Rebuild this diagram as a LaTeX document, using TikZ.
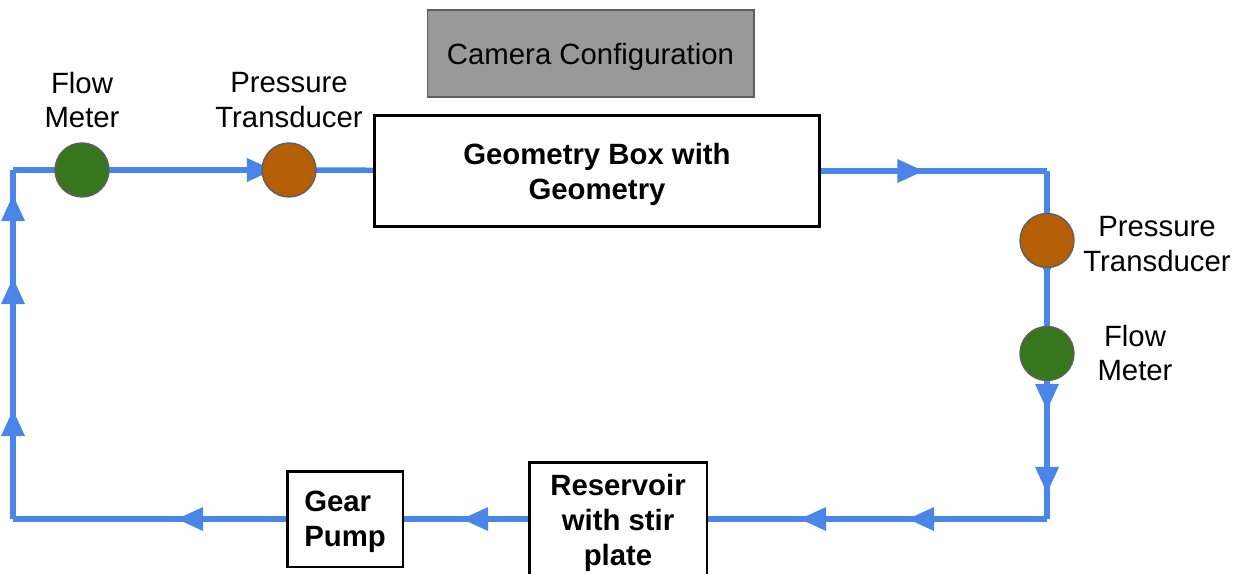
\documentclass[tikz,border=0pt]{standalone}
\usepackage{fontspec}
\setmainfont{Liberation Sans}
\usetikzlibrary{arrows.meta,backgrounds,decorations.markings}

\definecolor{pipeblue}{HTML}{4A86E8}
\definecolor{metergreen}{HTML}{38761D}
\definecolor{transorange}{HTML}{B45F06}
\definecolor{rimgray}{HTML}{5F5F5F}
\definecolor{camgray}{HTML}{999999}

\tikzset{
  pipe/.style={pipeblue, line width=0.11cm},
  flowmark/.style={postaction={decorate,decoration={markings,
    mark=at position #1 with {\arrow{Triangle[length=0.52cm,width=0.48cm,line width=0pt]}}}}},
  sensor/.style={circle, draw=rimgray, line width=0.8pt, minimum size=1.08cm, inner sep=0pt},
  tag/.style={align=center, inner sep=0pt, font=\fontsize{16.7}{19.9}\selectfont},
  unit/.style={draw=black, line width=1.7pt, fill=white, inner sep=0pt, text depth=-1pt,
    font=\bfseries\fontsize{16.7}{19.9}\selectfont}
}

\begin{document}
\begin{tikzpicture}[x=0.02cm,y=-0.02cm]
\useasboundingbox (0,0) rectangle (1246,574);

% test section and camera
\node[draw=rimgray, line width=0.6pt, fill=camgray, minimum width=6.54cm, minimum height=1.74cm,
  text depth=-1pt, font=\fontsize{16.7}{19.9}\selectfont] (cam) at (590.5,53.5) {Camera Configuration};
\node[unit, align=center, minimum width=8.9cm, minimum height=2.22cm] (geo) at (597,171)
  {Geometry Box with\\Geometry};

% sensors upstream of the test section
\node[sensor, fill=metergreen] (fmL) at (82,170) {};
\node[sensor, fill=transorange] (ptL) at (289,170) {};
\node[tag] (fmLtag) at (82,100) {Flow\\Meter};
\node[tag] (ptLtag) at (289,100) {Pressure\\Transducer};

% sensors downstream
\node[sensor, fill=transorange] (ptR) at (1047,240.5) {};
\node[sensor, fill=metergreen] (fmR) at (1047,353.5) {};
\node[tag] (ptRtag) at (1157,244) {Pressure\\Transducer};
\node[tag] (fmRtag) at (1135,353) {Flow\\Meter};

% return leg
\node[unit, align=center, minimum width=3.56cm, minimum height=2.3cm] (res) at (618,520)
  {Reservoir\\with stir\\plate};
\node[unit, align=left, minimum width=2.32cm, minimum height=1.92cm] (pump) at (345,519)
  {Gear\\Pump};

\coordinate (cTR) at (1047,171);
\coordinate (cBR) at (1047,519);
\coordinate (cBL) at (13,519);
\coordinate (cTL) at (13,170);

% piping
\begin{scope}[on background layer]
\draw[pipe, flowmark=2.05cm] (geo.east) -- (cTR);
\draw[pipe] (cTR) -- (ptR.center);
\draw[pipe, flowmark=0.73cm] (ptR.center) -- (fmR.center);
\draw[pipe, flowmark=1.13cm, flowmark=2.79cm] (fmR.center) -- (cBR);
\draw[pipe, flowmark=2.78cm, flowmark=4.94cm] (cBR) -- (res.center |- cBR);
\draw[pipe, flowmark=3.12cm] (res.center |- pump) -- (pump.center);
\draw[pipe, flowmark=3.36cm] (pump.center) -- (cBL);
\draw[pipe, flowmark=2.18cm, flowmark=4.82cm, flowmark=6.48cm] (cBL) -- (cTL);
\draw[pipe] (cTL) -- (fmL.center);
\draw[pipe, flowmark=3.82cm] (fmL.center) -- (ptL.center);
\draw[pipe] (ptL.center) -- (geo.center);
\end{scope}
\end{tikzpicture}
\end{document}
